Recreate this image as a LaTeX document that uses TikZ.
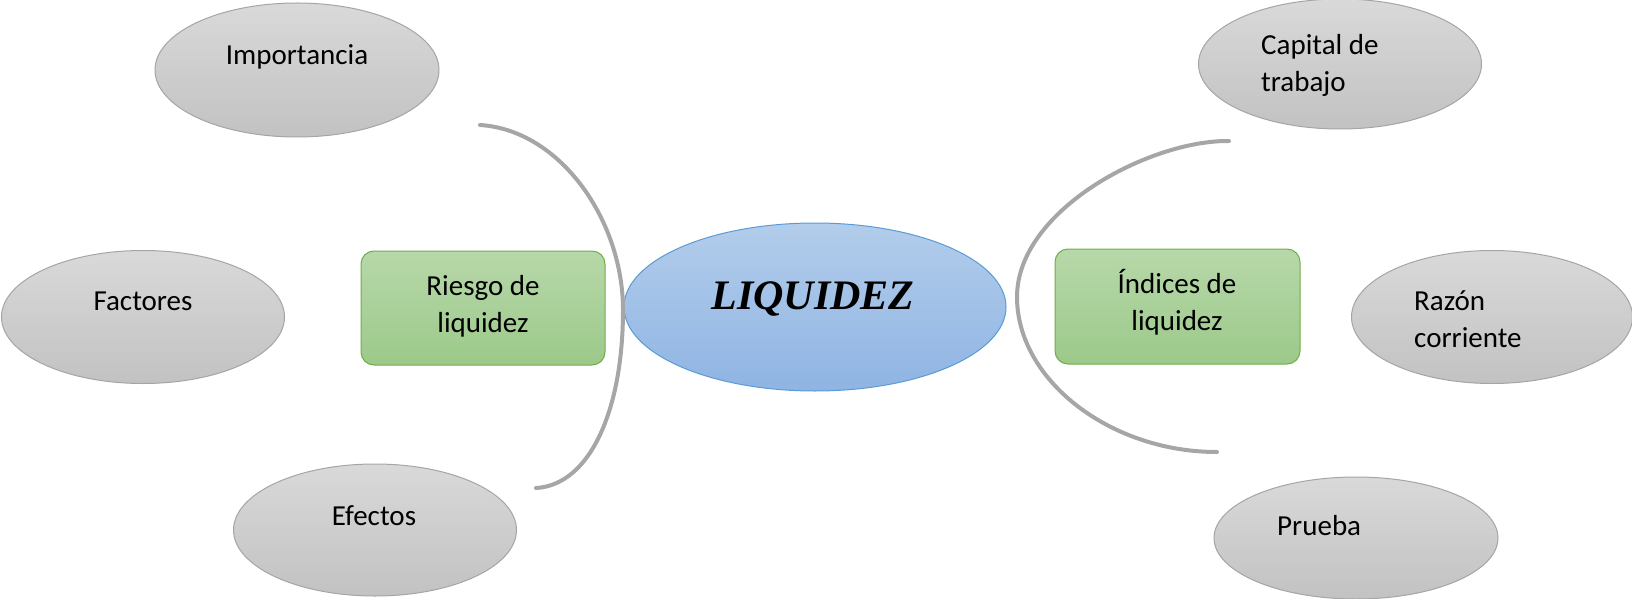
\documentclass[tikz,border=0pt]{standalone}
\usepackage{fontspec}
\setmainfont{Carlito}
\newfontfamily\titlefont{Liberation Serif}
\usetikzlibrary{shapes.geometric}
\definecolor{gtop}{HTML}{D9D9D9}
\definecolor{gbot}{HTML}{C2C2C2}
\definecolor{gline}{HTML}{A5A5A5}
\definecolor{btop}{HTML}{B3CDEB}
\definecolor{bbot}{HTML}{8FB4E3}
\definecolor{bline}{HTML}{5B9BD5}
\definecolor{grtop}{HTML}{B7D8A9}
\definecolor{grbot}{HTML}{9CC98A}
\definecolor{grline}{HTML}{70AD47}
\definecolor{arcline}{HTML}{A6A6A6}
\begin{document}
\begin{tikzpicture}[x=1pt,y=-1pt,
  grayell/.style={ellipse, draw=gline, line width=1, top color=gtop, bottom color=gbot, inner sep=0},
  blueell/.style={ellipse, draw=bline, line width=1, top color=btop, bottom color=bbot, inner sep=0},
  greenbox/.style={rectangle, rounded corners=13, draw=grline, line width=1, top color=grtop, bottom color=grbot, inner sep=0},
  lbl/.style={inner sep=0, font=\fontsize{29}{37}\selectfont},
  arcstyle/.style={draw=arcline, line width=4, line cap=round}]
\useasboundingbox (0,0) rectangle (1632,599);

% ellipses
\node[grayell, minimum width=284, minimum height=134] (imp) at (297,70) {};
\node[grayell, minimum width=283, minimum height=130] (cap) at (1340,64) {};
\node[grayell, minimum width=283, minimum height=133] (fac) at (143,317) {};
\node[grayell, minimum width=283, minimum height=132] (efe) at (375,530) {};
\node[grayell, minimum width=281, minimum height=133] (raz) at (1492,317) {};
\node[grayell, minimum width=284, minimum height=122] (pru) at (1356,538) {};
\node[blueell, minimum width=382, minimum height=168] (liq) at (815,307) {};
\node[greenbox, minimum width=244, minimum height=114] (rie) at (483,308) {};
\node[greenbox, minimum width=245, minimum height=115] (ind) at (1177.5,306.5) {};

% arcs
\coordinate (la) at (480,125);
\coordinate (lm) at (623,310);
\coordinate (lb) at (536,488);
\coordinate (ra) at (1229,141);
\coordinate (rm) at (1017,297);
\coordinate (rb) at (1217,452);
\draw[arcstyle] (la) .. controls (560,130) and (623,220) .. (lm)
                     .. controls (623,410) and (590,485) .. (lb);
\draw[arcstyle] (ra) .. controls (1150,140) and (1017,210) .. (rm)
                     .. controls (1017,380) and (1110,452) .. (rb);

% labels (multi-line nodes: base = baseline of last line)
\node[lbl, anchor=base] (timp) at (297,65) {Importancia};
\node[lbl, anchor=base] (tfac) at (143,310) {Factores};
\node[lbl, anchor=base] (tefe) at (374,525) {Efectos};
\node[lbl, anchor=base west] (tpru) at (1277,535) {Prueba};
\node[lbl, anchor=base west, align=left] (tcap) at (1261,92) {Capital de\\trabajo};
\node[lbl, anchor=base west, align=left] (traz) at (1414,347) {Razón\\corriente};
\node[lbl, anchor=base, align=center] (trie) at (483,332) {Riesgo de\\liquidez};
\node[lbl, anchor=base, align=center] (tind) at (1177,330) {Índices de\\liquidez};
\node[inner sep=0, anchor=base, font=\titlefont\bfseries\itshape\fontsize{42}{50}\selectfont] (tliq) at (813,309) {LIQUIDEZ};
\end{tikzpicture}
\end{document}
